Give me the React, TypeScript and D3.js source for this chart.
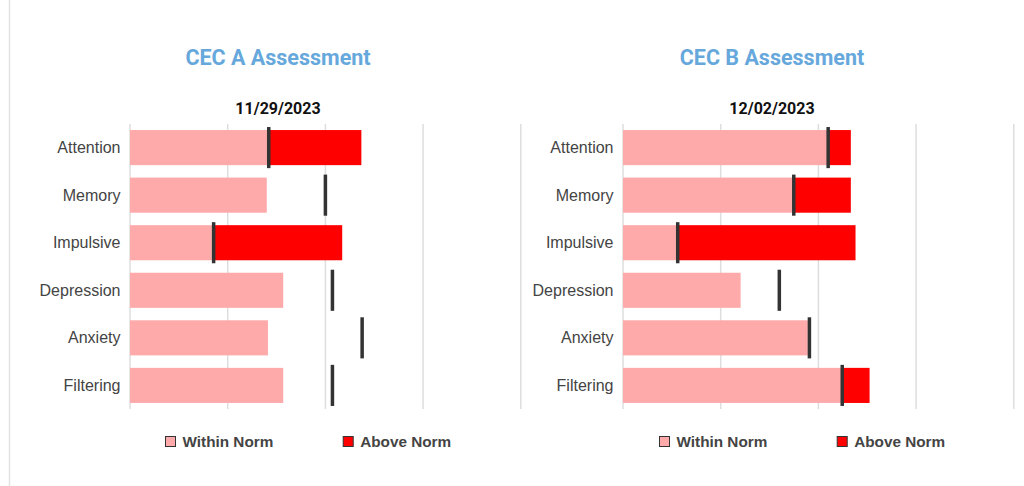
import React from "react";
import * as d3 from "d3";

const categories = ["Attention", "Memory", "Impulsive", "Depression", "Anxiety", "Filtering"];
const scoresA = [59.2, 35.0, 54.3, 39.2, 35.3, 39.2];
const normsA = [35.5, 50.0, 21.4, 51.8, 59.4, 51.8];
const scoresB = [58.3, 58.3, 59.5, 30.1, 47.3, 63.1];
const normsB = [52.5, 43.7, 14.0, 40.0, 47.7, 56.1];
const tickValues = [0, 25, 50, 75, 100];
const legendLabels = ["Within Norm", "Above Norm"];

const WITHIN = "#ffaaaa";
const ABOVE = "#ff0000";

type PanelProps = {
  title: string;
  date: string;
  scores: number[];
  norms: number[];
  x0: number;
  cx: number;
  legendX: number[];
};

function Panel({ title, date, scores, norms, x0, cx, legendX }: PanelProps) {
  const x = d3.scaleLinear().domain([0, 100]).range([x0, x0 + 390.8]);
  const y = d3
    .scaleBand<string>()
    .domain(categories)
    .range([124, 409])
    .paddingInner(0.262)
    .paddingOuter(0.127);
  const bw = y.bandwidth();
  return (
    <g>
      <text x={cx} y={65} textAnchor="middle" fontFamily="Roboto" fontWeight="bold" fontSize={21.5} fill="#66a8dc">
        {title}
      </text>
      <text x={cx} y={114} textAnchor="middle" fontFamily="Roboto" fontWeight="bold" fontSize={16} fill="#111">
        {date}
      </text>
      {tickValues.map((t) => (
        <line key={t} x1={x(t)} x2={x(t)} y1={124} y2={409} stroke="#dedede" strokeWidth={1.5} />
      ))}
      {categories.map((c, i) => {
        const s = scores[i];
        const n = norms[i];
        const yy = y(c)!;
        const within = Math.min(s, n);
        return (
          <g key={c}>
            <text
              x={x0 - 9.5}
              y={yy + bw / 2}
              dy="0.35em"
              textAnchor="end"
              fontFamily="Liberation Sans, Arial, sans-serif"
              fontSize={16}
              fill="#444"
            >
              {c}
            </text>
            <rect x={x(0)} y={yy} width={x(within) - x(0)} height={bw} fill={WITHIN} />
            {s > n && <rect x={x(n)} y={yy} width={x(s) - x(n)} height={bw} fill={ABOVE} />}
            <rect x={x(n) - 1.75} y={yy - 3} width={3.5} height={bw + 6} fill="#333" />
          </g>
        );
      })}
      {legendLabels.map((l, i) => (
        <g key={l}>
          <rect
            x={legendX[i] + 0.5}
            y={436.5}
            width={10}
            height={10}
            fill={i === 0 ? WITHIN : ABOVE}
            stroke="#333"
            strokeWidth={1}
          />
          <text
            x={legendX[i] + 17.5}
            y={446.5}
            fontFamily="Liberation Sans, Arial, sans-serif"
            fontWeight="bold"
            fontSize={15.3}
            fill="#444"
          >
            {l}
          </text>
        </g>
      ))}
    </g>
  );
}

export default function App() {
  return (
    <svg
      width={1024}
      height={486}
      style={{ position: "absolute", left: 0, top: 0, background: "#fff" }}
    >
      <line x1={9.5} x2={9.5} y1={0} y2={486} stroke="#e2e2e2" strokeWidth={1.5} />
      <Panel
        title="CEC A Assessment"
        date="11/29/2023"
        scores={scoresA}
        norms={normsA}
        x0={130}
        cx={278}
        legendX={[165, 342.7]}
      />
      <Panel
        title="CEC B Assessment"
        date="12/02/2023"
        scores={scoresB}
        norms={normsB}
        x0={623}
        cx={772}
        legendX={[659, 836.7]}
      />
    </svg>
  );
}
